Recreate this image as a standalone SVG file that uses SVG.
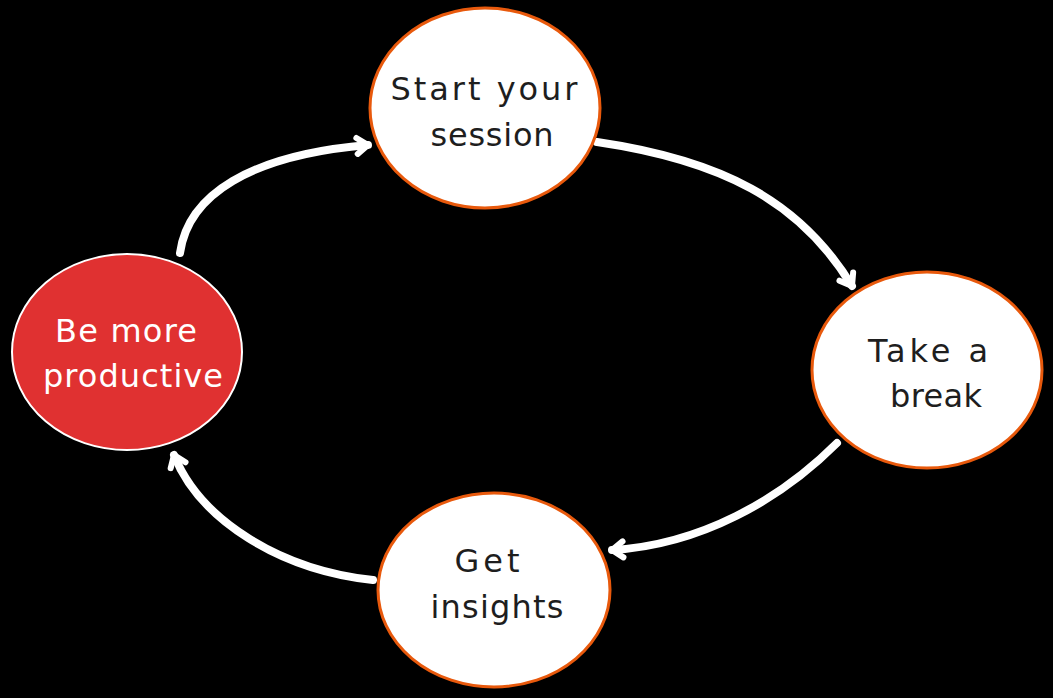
<svg xmlns="http://www.w3.org/2000/svg" width="1053" height="698" viewBox="0 0 1053 698">
  <defs>
    <style>
      .node { fill: #ffffff; stroke: #e8590c; stroke-width: 3; }
      .node-red { fill: #e03131; stroke: #ffffff; stroke-width: 2; }
      .lbl { font-family: "DejaVu Sans", "Liberation Sans", sans-serif; font-size: 32px; fill: #1e1e1e; text-anchor: middle; }
      .lbl-w { fill: #ffffff; }
      .conn { fill: none; stroke: #ffffff; stroke-width: 8; stroke-linecap: round; }
    </style>
    <marker id="arrow" markerUnits="userSpaceOnUse" markerWidth="30" markerHeight="30" refX="0" refY="0" viewBox="-20 -15 30 30" orient="auto">
      <path d="M-11,-8 L0,0 L-11,8" fill="none" stroke="#ffffff" stroke-width="6" stroke-linecap="round" stroke-linejoin="round"/>
    </marker>
  </defs>
  <rect x="0" y="0" width="1053" height="698" fill="#000000"/>

  <g id="connectors">
    <path class="conn" d="M180,253 C188,195 250,155 368,145" marker-end="url(#arrow)"/>
    <path class="conn" d="M597,142 C720,160 800,200 852,286" marker-end="url(#arrow)"/>
    <path class="conn" d="M837,443 C780,500 700,545 612,550" marker-end="url(#arrow)"/>
    <path class="conn" d="M373,580 C280,570 200,520 174,455" marker-end="url(#arrow)"/>
  </g>

  <g id="node-productive">
    <ellipse class="node-red" cx="127" cy="352" rx="115" ry="98"/>
    <text class="lbl lbl-w" x="126" y="342" textLength="142" lengthAdjust="spacing">Be more</text>
    <text class="lbl lbl-w" x="133" y="387" textLength="180" lengthAdjust="spacing">productive</text>
  </g>

  <g id="node-start">
    <ellipse class="node" cx="485" cy="108" rx="115" ry="100"/>
    <text class="lbl" x="484" y="100" textLength="187" lengthAdjust="spacing">Start your</text>
    <text class="lbl" x="492" y="146" textLength="123" lengthAdjust="spacing">session</text>
  </g>

  <g id="node-break">
    <ellipse class="node" cx="927" cy="370" rx="115" ry="98"/>
    <text class="lbl" x="928" y="362" textLength="120" lengthAdjust="spacing">Take a</text>
    <text class="lbl" x="936" y="407" textLength="92" lengthAdjust="spacing">break</text>
  </g>

  <g id="node-insights">
    <ellipse class="node" cx="494" cy="590" rx="116" ry="97"/>
    <text class="lbl" x="487" y="572" textLength="65" lengthAdjust="spacing">Get</text>
    <text class="lbl" x="497" y="618" textLength="133" lengthAdjust="spacing">insights</text>
  </g>
</svg>
